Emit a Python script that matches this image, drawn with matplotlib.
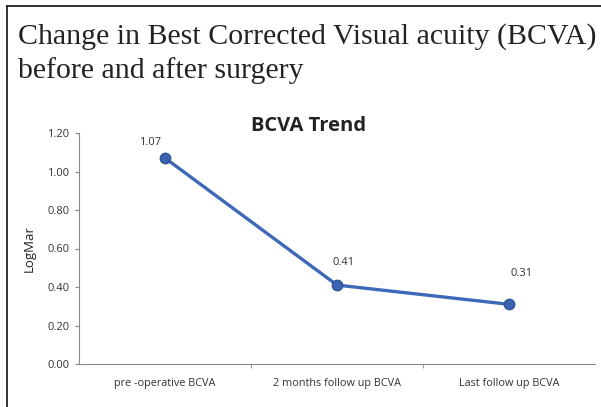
import matplotlib.pyplot as plt
import numpy as np
from matplotlib.lines import Line2D

categories = ["pre -operative BCVA", "2 months follow up BCVA", "Last follow up BCVA"]
logmar = [1.07, 0.41, 0.31]
y_ticks = [0.0, 0.2, 0.4, 0.6, 0.8, 1.0, 1.2]

fig = plt.figure(figsize=(6.01, 4.07), dpi=100)

# outer frame of the figure panel (left and top edges only visible)
fig.add_artist(Line2D([7 / 601, 7 / 601], [0, 1 - 6 / 407], transform=fig.transFigure, color="#222222", lw=1.3))
fig.add_artist(Line2D([7 / 601, 1], [1 - 6 / 407, 1 - 6 / 407], transform=fig.transFigure, color="#222222", lw=1.3))

fig.text(18 / 601, 1 - 44 / 407, "Change in Best Corrected Visual acuity (BCVA)",
         family="Liberation Serif", fontsize=21.5, va="baseline", ha="left", color="#222222")
fig.text(18 / 601, 1 - 78 / 407, "before and after surgery",
         family="Liberation Serif", fontsize=21.5, va="baseline", ha="left", color="#222222")

ax = fig.add_axes([79 / 601, 1 - 364 / 407, (595 - 79) / 601, (364 - 133) / 407])
x = np.arange(len(categories))
ax.plot(x, logmar, color="#3d69b8", lw=2.4, marker="o", markersize=7.5,
        markerfacecolor="#3a64b0", markeredgecolor="#2f5599", solid_capstyle="round")

offsets = [(-11, 11), (5, 16), (9, 22)]
for xi, yi, off in zip(x, logmar, offsets):
    ax.annotate(f"{yi:.2f}", (xi, yi), xytext=off, textcoords="offset points",
                ha="center", va="center", fontsize=8, family="Open Sans", color="#333333")

ax.set_xlim(-0.5, 2.5)
ax.set_ylim(0, 1.2)
ax.set_yticks(y_ticks)
ax.set_yticklabels([f"{v:.2f}" for v in y_ticks], family="Open Sans", fontsize=8, color="#333333")
ax.set_xticks(x)
ax.set_xticklabels(categories, family="Open Sans", fontsize=7.8, color="#333333")
ax.set_xticks([0.5, 1.5], minor=True)
ax.tick_params(axis="x", which="major", length=0, pad=10)
ax.tick_params(axis="x", which="minor", length=3, color="#888888", direction="out")
ax.tick_params(axis="y", length=3, color="#888888", direction="out", pad=4)
for s in ["top", "right"]:
    ax.spines[s].set_visible(False)
for s in ["left", "bottom"]:
    ax.spines[s].set_color("#888888")
    ax.spines[s].set_linewidth(0.8)

ax.set_ylabel("LogMar", family="Open Sans", fontsize=9.5, color="#222222", labelpad=8)

fig.text(309 / 601, 1 - 126 / 407, "BCVA Trend", family="Open Sans", fontweight="bold",
         fontsize=14.5, ha="center", va="center", color="#222222")

fig.savefig("out.png", dpi=100)
